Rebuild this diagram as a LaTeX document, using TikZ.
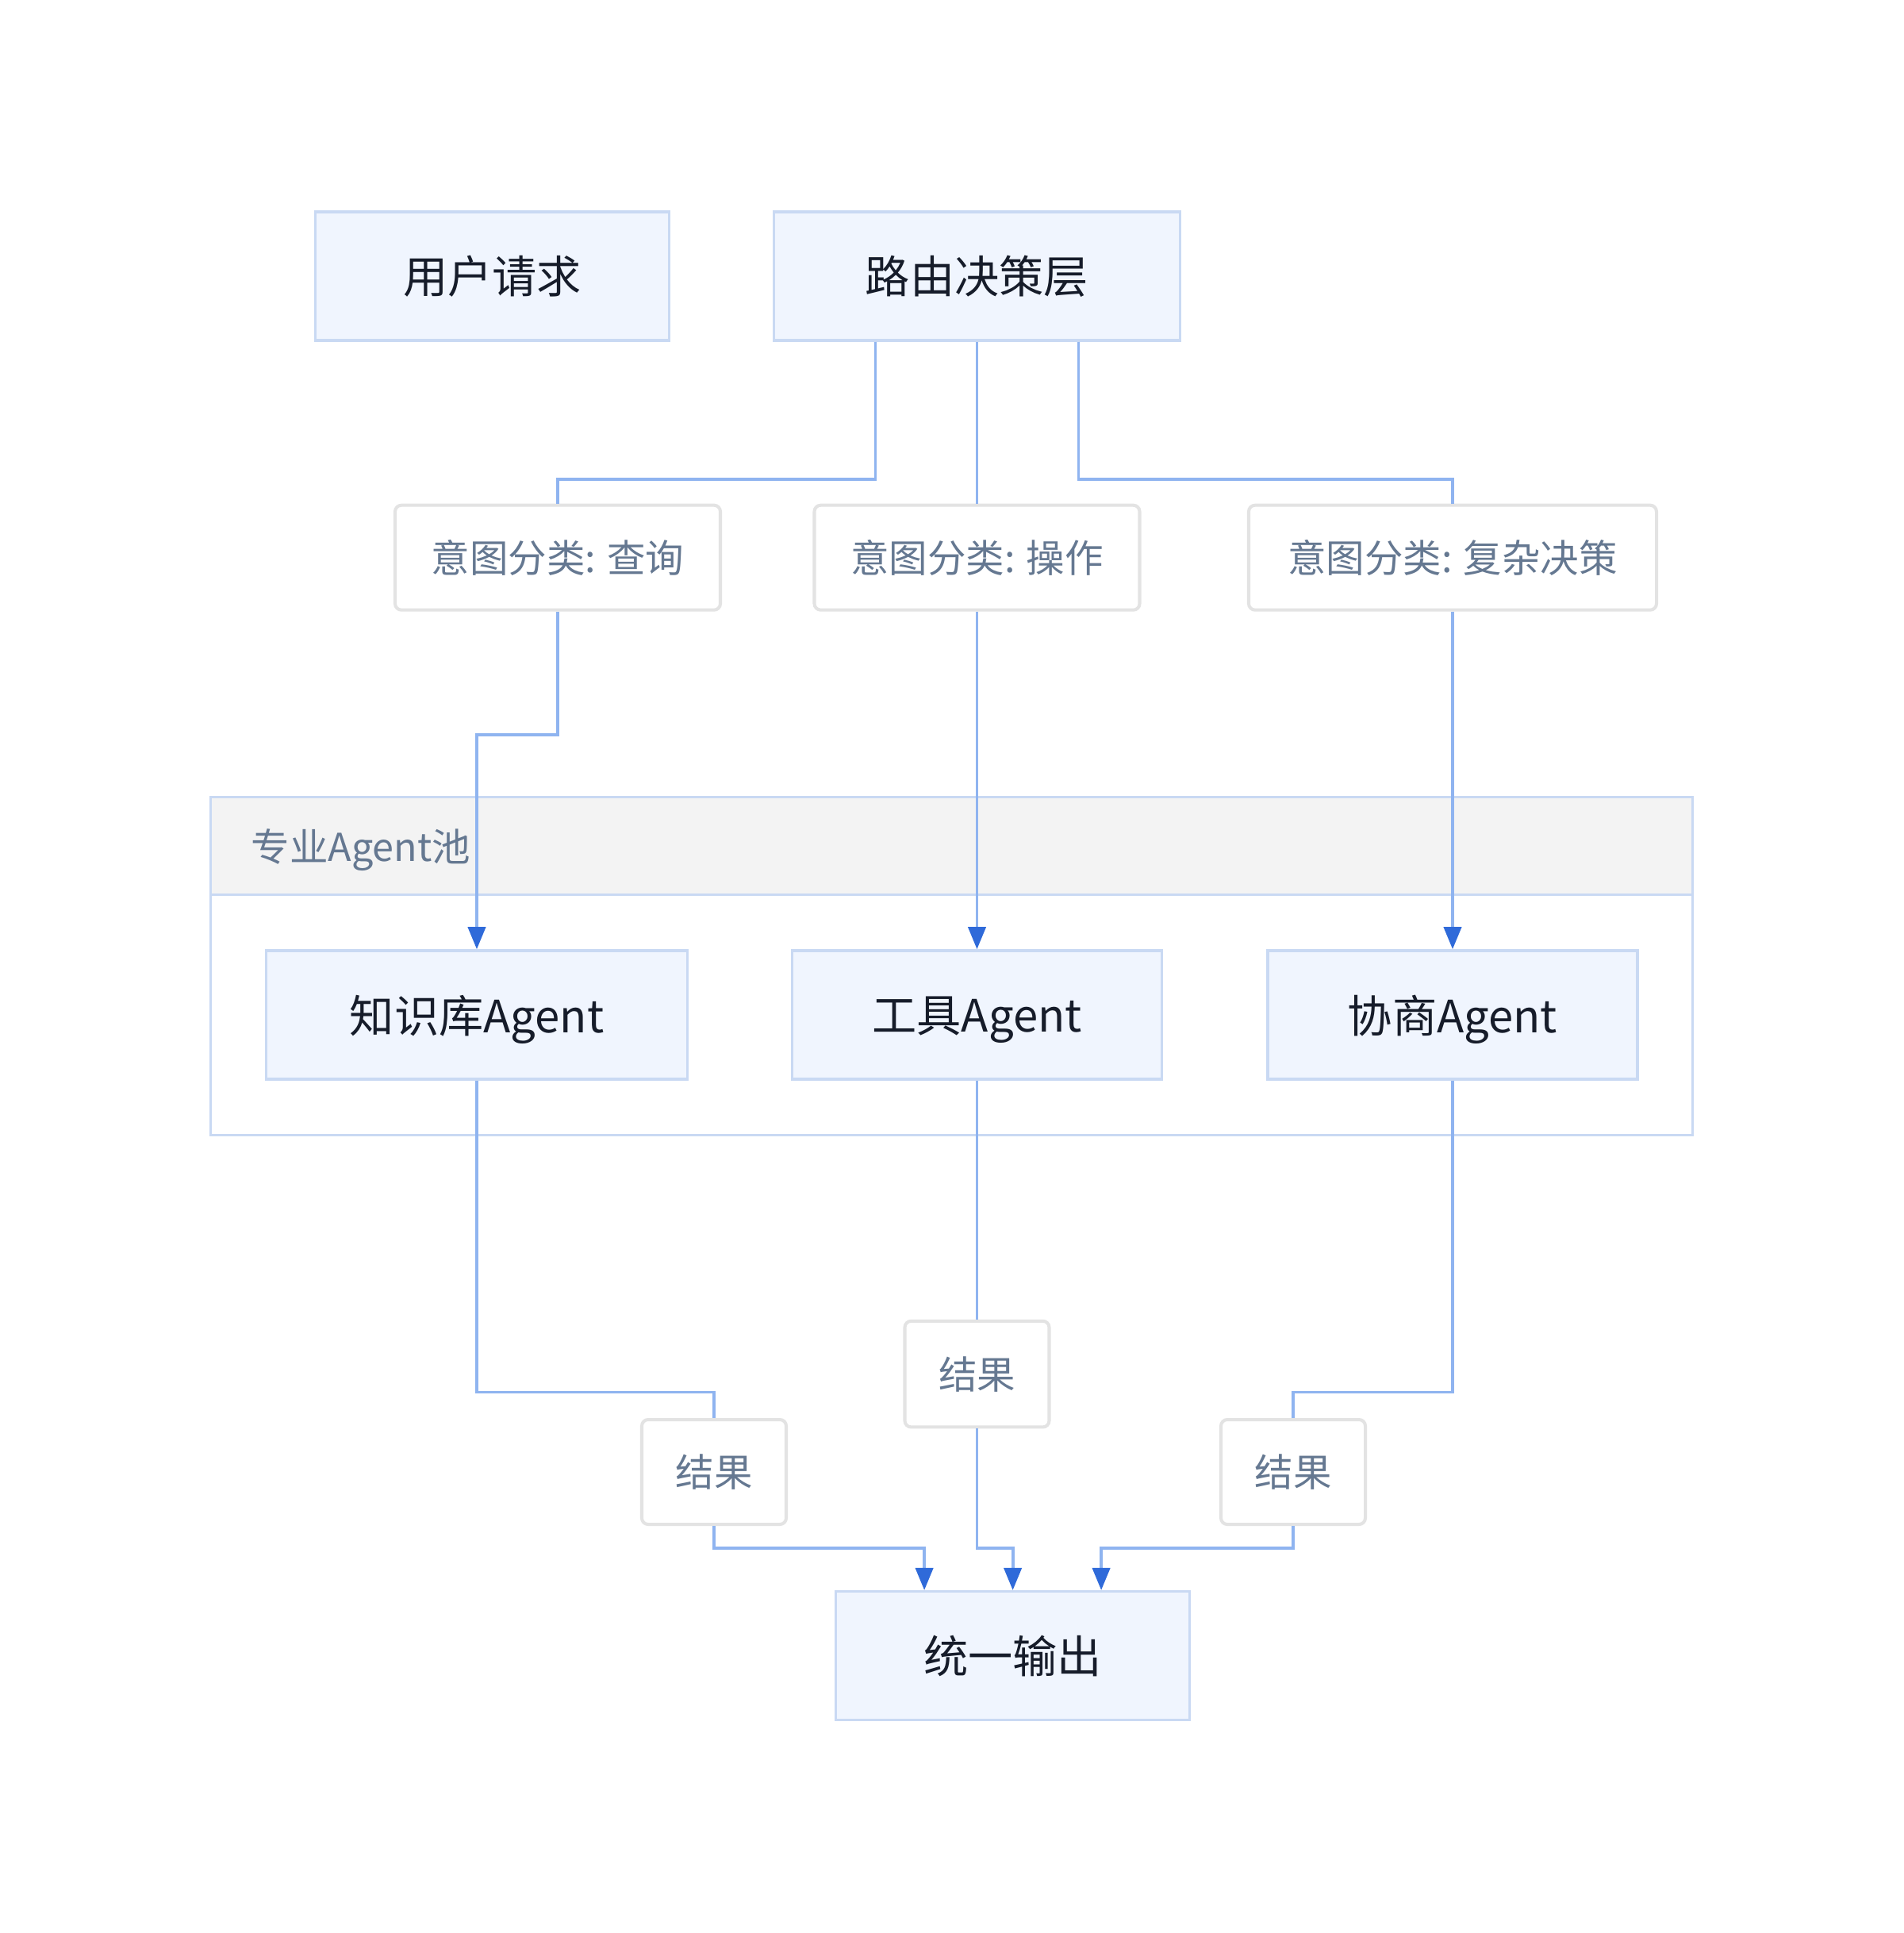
\documentclass[tikz,border=0pt]{standalone}
\usepackage{fontspec}
\newfontfamily\cjk{Noto Sans CJK SC}
\usetikzlibrary{arrows.meta}
\definecolor{nodefill}{HTML}{F0F5FE}
\definecolor{nodeline}{HTML}{C9D9F3}
\definecolor{lblline}{HTML}{E3E3E3}
\definecolor{lbltext}{HTML}{657891}
\definecolor{maintext}{HTML}{161C2A}
\definecolor{linkcol}{HTML}{8FB4F0}
\definecolor{tipcol}{HTML}{2F6AD9}
\definecolor{headfill}{HTML}{F3F3F3}
\newcommand{\dn}[1]{\raisebox{-0.06cm}[\height][\depth]{#1}}
\tikzset{
  box/.style={rectangle, draw=nodeline, fill=nodefill, line width=0.95pt,
    minimum height=1.62cm, inner sep=0pt, text=maintext,
    font=\cjk\fontsize{16}{19}\selectfont},
  lbl/.style={rectangle, rounded corners=0.08cm, draw=lblline, fill=white,
    line width=1.15pt, minimum height=1.32cm, inner sep=0pt, text=lbltext,
    font=\cjk\fontsize{13.8}{16}\selectfont},
  link/.style={draw=linkcol, line width=1.1pt},
  arrow/.style={link, -{Triangle[length=0.28cm, width=0.22cm, color=tipcol]}}
}
\begin{document}
\begin{tikzpicture}
\useasboundingbox[fill=white] (0,0) rectangle (24,-24.36);
% agent pool
\draw[draw=nodeline, fill=white, line width=0.95pt] (2.656,-10.048) rectangle (21.338,-14.303);
\draw[draw=nodeline, fill=headfill, line width=0.95pt] (2.656,-10.048) rectangle (21.338,-11.275);
\node[anchor=west, inner sep=0pt, text=lbltext, font=\cjk\fontsize{13.8}{16}\selectfont]
  (pool) at (3.16,-10.715) {专业Agent池};
% top row
\node[box, minimum width=4.46cm] (user) at (6.205,-3.48) {用户请求};
\node[box, minimum width=5.125cm] (router) at (12.315,-3.48) {路由决策层};
% intent labels
\node[lbl, minimum width=4.10cm] (q) at (7.03,-7.027) {意图分类: 查询};
\node[lbl, minimum width=4.10cm] (op) at (12.315,-7.027) {意图分类: 操作};
\node[lbl, minimum width=5.14cm] (cx) at (18.31,-7.027) {意图分类: 复杂决策};
% agents
\node[box, minimum width=5.31cm] (kb) at (6.01,-12.789) {\dn{知识库Agent}};
\node[box, minimum width=4.66cm] (tool) at (12.315,-12.789) {\dn{工具Agent}};
\node[box, minimum width=4.66cm] (neg) at (18.31,-12.789) {\dn{协商Agent}};
% result labels
\node[lbl, minimum width=1.82cm, minimum height=1.336cm] (r2) at (12.315,-17.316) {结果};
\node[lbl, minimum width=1.82cm] (r1) at (9.0,-18.55) {结果};
\node[lbl, minimum width=1.82cm] (r3) at (16.30,-18.55) {结果};
% output
\node[box, minimum width=4.46cm] (out) at (12.766,-20.866) {统一输出};
% router to labels
\draw[link] ([xshift=-1.28cm]router.south) |- ([yshift=0.31cm]q.north) -- (q.north);
\draw[link] (router.south) -- (op.north);
\draw[link] ([xshift=1.28cm]router.south) |- ([yshift=0.31cm]cx.north) -- (cx.north);
% labels to agents
\draw[arrow] (q.south) -- ++(0,-1.553) -| (kb.north);
\draw[arrow] (op.south) -- (tool.north);
\draw[arrow] (cx.south) -- (neg.north);
% agents to results
\draw[link] (kb.south) |- ([yshift=0.325cm]r1.north) -- (r1.north);
\draw[link] (tool.south) -- (r2.north);
\draw[link] (neg.south) |- ([yshift=0.325cm]r3.north) -- (r3.north);
% results to output
\draw[arrow] (r1.south) |- ([xshift=-1.115cm, yshift=0.53cm]out.north) -- ([xshift=-1.115cm]out.north);
\draw[arrow] (r2.south) |- ([yshift=0.53cm]out.north) -- (out.north);
\draw[arrow] (r3.south) |- ([xshift=1.115cm, yshift=0.53cm]out.north) -- ([xshift=1.115cm]out.north);
\end{tikzpicture}
\end{document}
